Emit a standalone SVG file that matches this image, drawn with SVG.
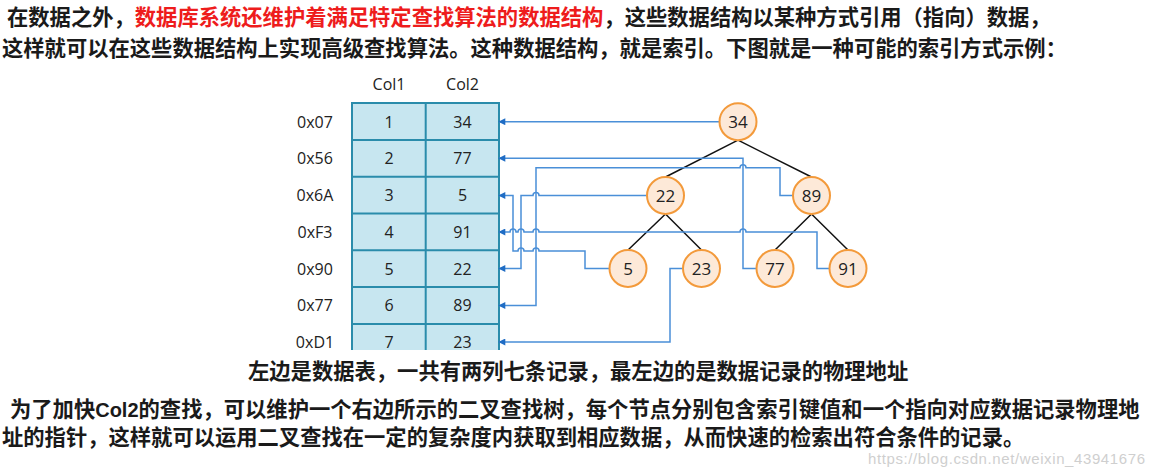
<svg xmlns="http://www.w3.org/2000/svg" width="1154" height="468" viewBox="0 0 1154 468">
<style>
.cjk{font-family:"Noto Sans CJK SC","Noto Sans",sans-serif;font-size:21.3px;font-weight:bold;fill:#1a1a1a}
.red{fill:#ee1c1c}
.lat{font-family:"Liberation Sans",Arial,sans-serif;font-weight:bold;font-size:20px}
.lbl{font-family:"Open Sans","DejaVu Sans",sans-serif;font-size:16px;fill:#222;text-anchor:middle}
.cell{fill:#c7e6f0;stroke:none}
.grid{stroke:#2a8cab;stroke-width:2;fill:none}
.nd circle{fill:#fde9d8;stroke:#f39a3b;stroke-width:2}
.nd text{font-family:"Open Sans","DejaVu Sans",sans-serif;font-size:17px;fill:#222;text-anchor:middle}
.edge{stroke:#111;stroke-width:1.5;fill:none}
.ptr{stroke:#4a8fd8;stroke-width:1.5;fill:none;marker-end:url(#ah)}
.wm{font-family:"Liberation Sans",Arial,sans-serif;font-size:15px;fill:#cfcfcf}
</style>
<defs>
<marker id="ah" viewBox="0 0 10 10" refX="9" refY="5" markerWidth="8" markerHeight="7" markerUnits="userSpaceOnUse" orient="auto">
<path d="M0 0 L10 5 L0 10 Z" fill="#1f6cc4"/>
</marker>
</defs>
<rect width="1154" height="468" fill="#ffffff"/>

<!-- top paragraph -->
<text class="cjk" y="25"><tspan x="7">在数据之外，</tspan><tspan x="134.8" class="red">数据库系统还维护着满足特定查找算法的数据结构</tspan><tspan x="603.4">，这些数据结构以某种方式引用（指向）数据，</tspan></text>
<text class="cjk" x="2" y="56">这样就可以在这些数据结构上实现高级查找算法。这种数据结构，就是索引。下图就是一种可能的索引方式示例：</text>

<!-- table -->
<g id="table">
<rect class="cell" x="352" y="103" width="147" height="247"/>
<path class="grid" d="M352 350 V103 H499 V350 M425.7 103 V350 M352 140 H499 M352 176.7 H499 M352 213.5 H499 M352 250.3 H499 M352 287.1 H499 M352 324 H499"/>
<text class="lbl" x="389" y="90">Col1</text>
<text class="lbl" x="462.5" y="90">Col2</text>
<text class="lbl" x="315" y="127.5">0x07</text>
<text class="lbl" x="315" y="164.2">0x56</text>
<text class="lbl" x="315" y="200.9">0x6A</text>
<text class="lbl" x="315" y="237.7">0xF3</text>
<text class="lbl" x="315" y="274.5">0x90</text>
<text class="lbl" x="315" y="311.3">0x77</text>
<text class="lbl" x="315" y="348">0xD1</text>
<text class="lbl" x="389" y="127.5">1</text><text class="lbl" x="462.5" y="127.5">34</text>
<text class="lbl" x="389" y="164.2">2</text><text class="lbl" x="462.5" y="164.2">77</text>
<text class="lbl" x="389" y="200.9">3</text><text class="lbl" x="462.5" y="200.9">5</text>
<text class="lbl" x="389" y="237.7">4</text><text class="lbl" x="462.5" y="237.7">91</text>
<text class="lbl" x="389" y="274.5">5</text><text class="lbl" x="462.5" y="274.5">22</text>
<text class="lbl" x="389" y="311.3">6</text><text class="lbl" x="462.5" y="311.3">89</text>
<text class="lbl" x="389" y="348">7</text><text class="lbl" x="462.5" y="348">23</text>
</g>

<!-- connectors -->
<g id="connectors">
<path class="edge" d="M738 140.2 L665.5 177 M738 140.2 L811.5 177 M665.5 214 L628 250 M665.5 214 L701.5 250 M811.5 214 L775 250 M811.5 214 L848 250"/>
<path class="ptr" d="M719.5 121.7 H499"/>
<path class="ptr" d="M756.5 268.5 H743 V158.3 H499"/>
<path class="ptr" d="M609.5 268.5 H585 V251 H539 A3 3 0 0 0 533 251 H524 A3 3 0 0 0 518 251 H513 V195.5 H499"/>
<path class="ptr" d="M829.5 268.5 H817 V232 H746 A3 3 0 0 0 740 232 H539 A3 3 0 0 0 533 232 H524 A3 3 0 0 0 518 232 H516 A3 3 0 0 0 510 232 H499"/>
<path class="ptr" d="M647 195.5 H539 A3 3 0 0 0 533 195.5 H521 V268.5 H499"/>
<path class="ptr" d="M793 195.5 H780 V167.7 H746 A3 3 0 0 0 740 167.7 H536 V305.5 H499"/>
<path class="ptr" d="M683 268.5 H670 V342 H499"/>
</g>

<!-- tree nodes -->
<g id="n34" class="nd"><circle cx="738" cy="121.7" r="18.5"/><text x="738" y="127.7">34</text></g>
<g id="n22" class="nd"><circle cx="665.5" cy="195.5" r="18.5"/><text x="665.5" y="201.5">22</text></g>
<g id="n89" class="nd"><circle cx="811.5" cy="195.5" r="18.5"/><text x="811.5" y="201.5">89</text></g>
<g id="n5" class="nd"><circle cx="628" cy="268.5" r="18.5"/><text x="628" y="274.5">5</text></g>
<g id="n23" class="nd"><circle cx="701.5" cy="268.5" r="18.5"/><text x="701.5" y="274.5">23</text></g>
<g id="n77" class="nd"><circle cx="775" cy="268.5" r="18.5"/><text x="775" y="274.5">77</text></g>
<g id="n91" class="nd"><circle cx="848" cy="268.5" r="18.5"/><text x="848" y="274.5">91</text></g>

<!-- captions -->
<text class="cjk" x="248" y="379">左边是数据表，一共有两列七条记录，最左边的是数据记录的物理地址</text>
<text class="cjk" x="10" y="417">为了加快<tspan class="lat">Col2</tspan>的查找，可以维护一个右边所示的二叉查找树，每个节点分别包含索引键值和一个指向对应数据记录物理地</text>
<text class="cjk" x="2" y="445">址的指针，这样就可以运用二叉查找在一定的复杂度内获取到相应数据，从而快速的检索出符合条件的记录。</text>
<text class="wm" x="868" y="464" textLength="277">https://blog.csdn.net/weixin_43941676</text>
</svg>
